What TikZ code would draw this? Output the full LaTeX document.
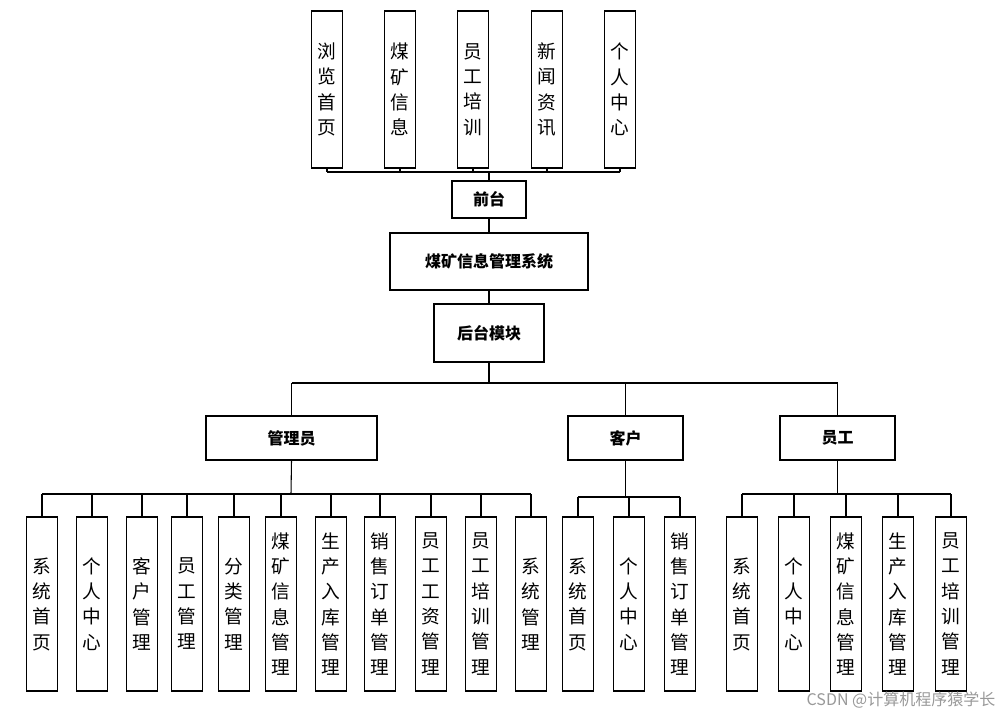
\documentclass[tikz,border=0pt]{standalone}
\usepackage{fontspec}
\newfontfamily\cjk{Noto Sans CJK SC}
\begin{document}
\begin{tikzpicture}[x=0.75pt,y=-0.75pt,
  vbox/.style={draw,thick,minimum width=31*0.75pt,align=center,font=\cjk\fontsize{14}{19}\selectfont,inner sep=0pt},
  hbox/.style={draw,thick,align=center,font=\cjk\bfseries\fontsize{12}{14}\selectfont,inner sep=0pt},
  ln/.style={thick}]
\useasboundingbox (0,0) rectangle (1003,718);
\fill[white] (0,0) rectangle (1003,718);
% top
\foreach \n/\x/\t in {t1/327/浏\\览\\首\\页, t2/400/煤\\矿\\信\\息, t3/473/员\\工\\培\\训, t4/547/新\\闻\\资\\讯, t5/620/个\\人\\中\\心}
  \node[vbox,minimum height=157*0.75pt] (\n) at (\x,89.5) {\t};
\node[hbox,minimum width=74*0.75pt,minimum height=37*0.75pt] (qt) at (489,199.5) {前台};
\node[hbox,minimum width=198*0.75pt,minimum height=57*0.75pt] (sys) at (489,261.5) {煤矿信息管理系统};
\node[hbox,minimum width=110*0.75pt,minimum height=58*0.75pt] (ht) at (489,333) {后台模块};
\coordinate (tb) at (489,172);
\foreach \n in {t1,t2,t3,t4,t5} \draw[ln] (\n.south) -- (\n.south |- tb);
\draw[ln] (t1.south |- tb) -- (t5.south |- tb);
\draw[ln] (tb) -- (qt.north);
\draw[ln] (qt) -- (sys);
\draw[ln] (sys) -- (ht);
% roles
\node[hbox,minimum width=171*0.75pt,minimum height=44*0.75pt] (gly) at (291.5,438) {管理员};
\node[hbox,minimum width=115*0.75pt,minimum height=44*0.75pt] (kh) at (625.5,438) {客户};
\node[hbox,minimum width=115*0.75pt,minimum height=44*0.75pt] (yg) at (837.5,438) {员工};
\coordinate (mb) at (489,383);
\draw[ln] (ht.south) -- (mb);
\draw[ln] (gly.north |- mb) -- (yg.north |- mb);
\foreach \n in {gly,kh,yg} \draw[ln] (\n.north |- mb) -- (\n.north);
% bottom
\foreach \n/\x/\t in {a1/42/系\\统\\首\\页, a2/92/个\\人\\中\\心, a3/142/客\\户\\管\\理, a4/187/员\\工\\管\\理, a5/234/分\\类\\管\\理, a6/281/煤\\矿\\信\\息\\管\\理, a7/331/生\\产\\入\\库\\管\\理, a8/380/销\\售\\订\\单\\管\\理, a9/431/员\\工\\工\\资\\管\\理, a10/481/员\\工\\培\\训\\管\\理, a11/531/系\\统\\管\\理,
 b1/578/系\\统\\首\\页, b2/629/个\\人\\中\\心, b3/680/销\\售\\订\\单\\管\\理,
 c1/742/系\\统\\首\\页, c2/794/个\\人\\中\\心, c3/846/煤\\矿\\信\\息\\管\\理, c4/898/生\\产\\入\\库\\管\\理, c5/951/员\\工\\培\\训\\管\\理}
  \node[vbox,minimum height=174*0.75pt] (\n) at (\x,604) {\t};
\coordinate (ab) at (291,494);
\coordinate (bb) at (625.5,497);
\coordinate (cb) at (837.5,494);
\draw[ln] (gly.south) -- (ab); \draw[ln] (kh.south) -- (bb); \draw[ln] (yg.south) -- (cb);
\draw[ln] (a1.north |- ab) -- (a11.north |- ab);
\foreach \n in {a1,a2,a3,a4,a5,a6,a7,a8,a9,a10,a11} \draw[ln] (\n.north |- ab) -- (\n.north);
\draw[ln] (b1.north |- bb) -- (b3.north |- bb);
\foreach \n in {b1,b2,b3} \draw[ln] (\n.north |- bb) -- (\n.north);
\draw[ln] (c1.north |- cb) -- (c5.north |- cb);
\foreach \n in {c1,c2,c3,c4,c5} \draw[ln] (\n.north |- cb) -- (\n.north);
\node[font=\cjk\fontsize{12}{14}\selectfont,text=gray!80,anchor=east] (wm) at (1000,700) {CSDN @计算机程序猿学长};
\end{tikzpicture}
\end{document}
